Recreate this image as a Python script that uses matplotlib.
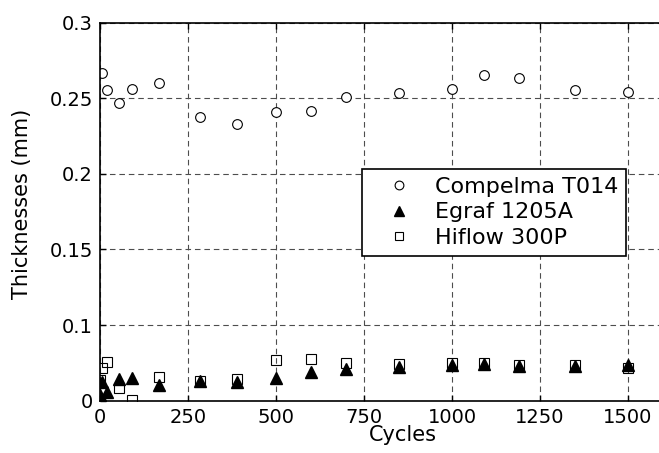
import numpy as np
import matplotlib
matplotlib.use('Agg')
import matplotlib.pyplot as plt

# Cycles / thickness (mm)
cycles_compelma = [5, 20, 55, 90, 167, 285, 390, 500, 600, 700, 850, 1000, 1090, 1190, 1350, 1500]
thick_compelma = [0.267, 0.2555, 0.2467, 0.2561, 0.2601, 0.2376, 0.2332, 0.2407, 0.2416,
                  0.2511, 0.2533, 0.2563, 0.2652, 0.2636, 0.2557, 0.2544]

cycles_other = [0, 5, 20, 55, 90, 167, 285, 390, 500, 600, 700, 850, 1000, 1090, 1190, 1350, 1500]
thick_egraf = [0.0538, 0.0626, 0.0560, 0.0644, 0.0652, 0.0604, 0.0630, 0.0622, 0.0652,
               0.0692, 0.0710, 0.0725, 0.0736, 0.0741, 0.0730, 0.0730, 0.0736]
thick_hiflow = [0.0637, 0.0714, 0.0758, 0.0582, 0.0505, 0.0655, 0.0632, 0.0643, 0.0769,
                0.0776, 0.0751, 0.0743, 0.0747, 0.0747, 0.0736, 0.0736, 0.0714]

xticks = [0, 250, 500, 750, 1000, 1250, 1500]
yticks = [0.05, 0.1, 0.15, 0.2, 0.25, 0.3]
ytick_labels = ['0', '0.1', '0.15', '0.2', '0.25', '0.3']

plt.rcParams['font.family'] = ['DejaVu Sans']

fig = plt.figure(figsize=(6.59, 4.53), dpi=100)
# axes runs past the right edge of the figure (the reference is cropped there)
x_max = 1650
ax = fig.add_axes([100 / 659, 0.1155, x_max * 0.352 / 659, 0.8344])

ax.plot(cycles_compelma, thick_compelma, linestyle='none', marker='o', markersize=7,
        markerfacecolor='white', markeredgecolor='black', markeredgewidth=0.8,
        label='Compelma T014')
ax.plot(cycles_other, thick_egraf, linestyle='none', marker='^', markersize=8,
        markerfacecolor='black', markeredgecolor='black', label='Egraf 1205A')
ax.plot(cycles_other, thick_hiflow, linestyle='none', marker='s', markersize=7,
        markerfacecolor='none', markeredgecolor='black', markeredgewidth=0.8,
        label='Hiflow 300P')

ax.set_xlim(0, x_max)
ax.set_ylim(0.05, 0.3)
ax.set_xticks(xticks)
ax.set_yticks(yticks)
ax.set_yticklabels(ytick_labels)
ax.tick_params(direction='in', length=4, width=1, top=True, right=True,
               labelsize=14, pad=5)

ax.grid(True, color='0.3', linestyle=(0, (5, 3.5)), linewidth=0.8)
for s in ax.spines.values():
    s.set_linewidth(1.2)

ax.set_xlabel('Cycles', fontsize=15)
ax.set_ylabel('Thicknesses (mm)', fontsize=15)
# label centre sits at ~861 cycles in the reference
ax.xaxis.set_label_coords(861 / x_max, -0.065)
ax.yaxis.set_label_coords(-0.12 * 1600 / x_max, 0.52)

leg = ax.legend(loc='upper left', bbox_to_anchor=(362 / 659, 1 - 169 / 453),
                bbox_transform=fig.transFigure, borderaxespad=0, fontsize=16,
                fancybox=False, edgecolor='black', framealpha=1,
                borderpad=0.35, labelspacing=0.25, handlelength=2.6,
                handletextpad=0.35, markerscale=0.9)
leg.get_frame().set_linewidth(1.2)

fig.savefig('out.png', dpi=100)
